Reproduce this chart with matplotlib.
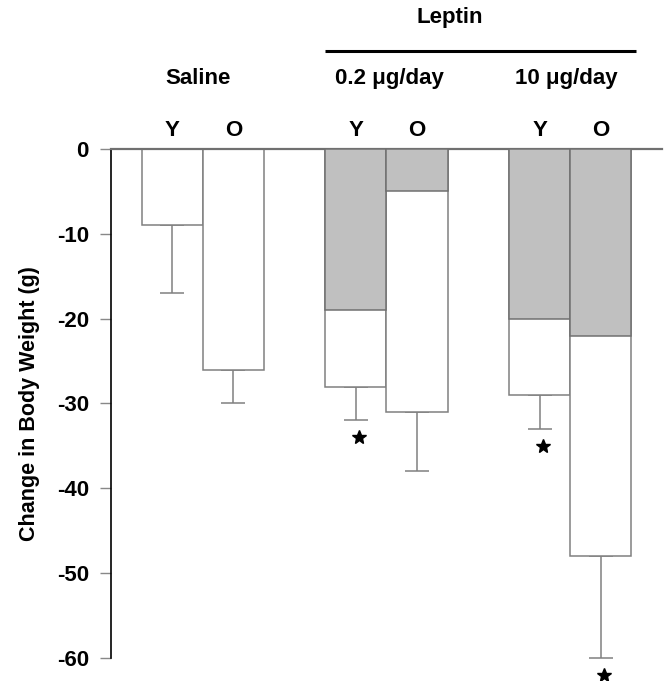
import matplotlib
matplotlib.use('Agg')
import matplotlib.pyplot as plt
import matplotlib.transforms as mtransforms
import numpy as np

plt.rcParams['font.family'] = ['Liberation Sans', 'DejaVu Sans']
plt.rcParams['font.weight'] = 'bold'
plt.rcParams['axes.unicode_minus'] = False

# Data
groups = ['Saline', '0.2 \u03bcg/day', '10 \u03bcg/day']
ages = ['Y', 'O', 'Y', 'O', 'Y', 'O']
total_change = [-9, -26, -28, -31, -29, -48]
shaded_part = [0, 0, -19, -5, -20, -22]
sem = [8, 4, 4, 7, 4, 12]
significant = [False, False, True, False, True, True]

x = np.array([0, 1, 3, 4, 6, 7])
group_x = [0.42, 3.55, 6.44]

fig = plt.figure(figsize=(6.67, 6.81), dpi=100)
ax = fig.add_axes([0.1664, 0.0338, 0.8261, 0.7474])

edge = '#808080'
ax.bar(x, total_change, width=1.0, color='white', edgecolor=edge, linewidth=1.1, zorder=2)
ax.bar(x, shaded_part, width=1.0, color='#c0c0c0', edgecolor='#707070', linewidth=1.1, zorder=3)
ax.errorbar(x, total_change, yerr=[sem, np.zeros(len(sem))], fmt='none',
            ecolor=edge, elinewidth=1.1, capsize=8.5, capthick=1.1, zorder=1)

# significance stars below the error bars
for xi, v, s, sig in zip(x, total_change, sem, significant):
    if sig:
        ax.plot(xi + 0.05, v - s - 2.0, marker='*', markersize=10, color='black',
                linestyle='none', clip_on=False, zorder=4)

ax.set_xlim(-1, 8)
ax.set_ylim(-60, 0)
ax.set_yticks([0, -10, -20, -30, -40, -50, -60])
ax.set_xticks([])
ax.tick_params(axis='y', direction='out', length=8, width=1, color='#888888',
               labelsize=16, pad=8)
for lab in ax.get_yticklabels():
    lab.set_fontweight('bold')

ax.spines['right'].set_visible(False)
ax.spines['bottom'].set_visible(False)
ax.spines['top'].set_color('#707070')
ax.spines['top'].set_linewidth(1.6)
ax.spines['left'].set_linewidth(1.2)

ax.set_ylabel('Change in Body Weight (g)', fontsize=15.5, fontweight='bold', labelpad=12)

# Labels above the plot
trans = mtransforms.blended_transform_factory(ax.transData, fig.transFigure)
for xi, a in zip(x, ages):
    ax.text(xi, 0.809, a, transform=trans, ha='center', va='center', fontsize=16, fontweight='bold')
for gx, g in zip(group_x, groups):
    ax.text(gx, 0.885, g, transform=trans, ha='center', va='center', fontsize=16, fontweight='bold')
ax.plot([2.5, 7.58], [0.925, 0.925], transform=trans, color='black', linewidth=2.2,
        clip_on=False, solid_capstyle='butt')
ax.text(4.54, 0.974, 'Leptin', transform=trans, ha='center', va='center', fontsize=16, fontweight='bold')

fig.savefig('out.png', dpi=100, facecolor='white')
